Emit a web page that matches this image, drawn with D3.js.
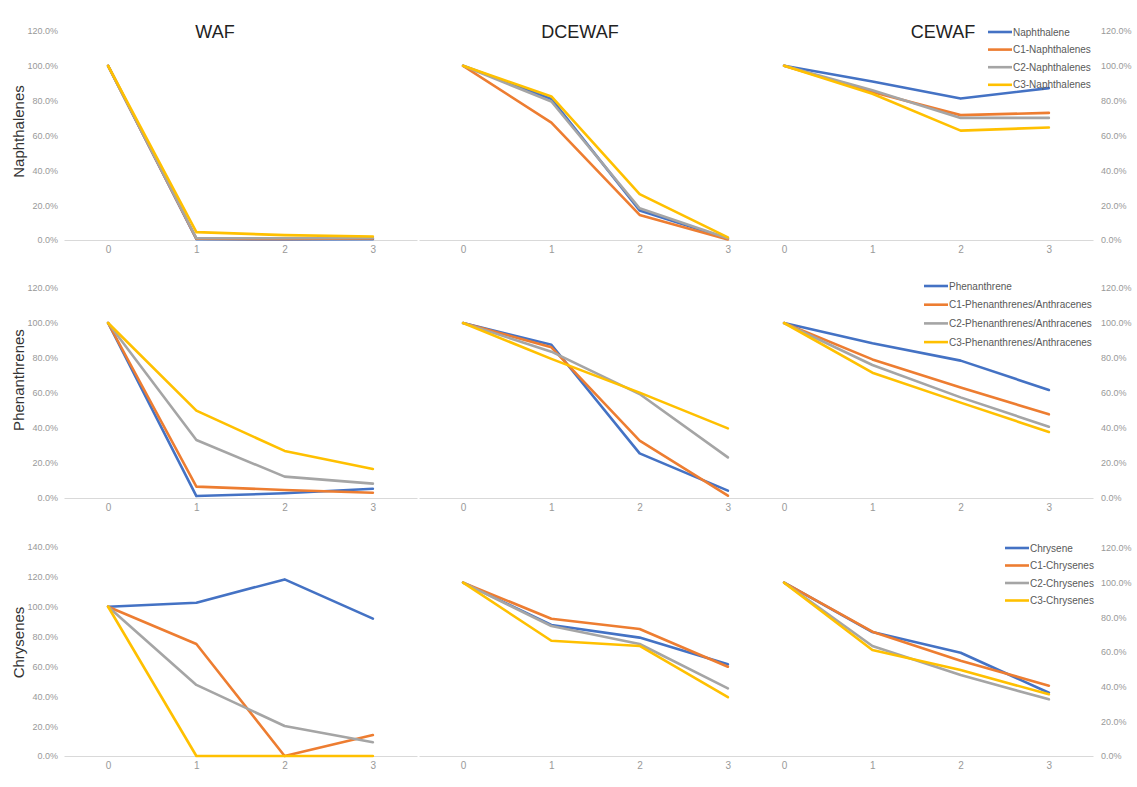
<!DOCTYPE html>
<html>
<head>
<meta charset="utf-8">
<script src="https://cdn.jsdelivr.net/npm/d3@7"></script>
<style>
  html, body { margin: 0; padding: 0; background: #fff; }
  svg { display: block; font-family: "Liberation Sans", Arial, sans-serif; }
</style>
</head>
<body>
<svg id="chart" width="1137" height="787"></svg>
<script>
// Sampling days after exposure
const timePoints = [0, 1, 2, 3];
const fractions = ["WAF", "DCEWAF", "CEWAF"];
const groups = ["Naphthalenes", "Phenanthrenes", "Chrysenes"];

const naphSeries = ["Naphthalene", "C1-Naphthalenes", "C2-Naphthalenes", "C3-Naphthalenes"];
const phenSeries = ["Phenanthrene", "C1-Phenanthrenes/Anthracenes", "C2-Phenanthrenes/Anthracenes", "C3-Phenanthrenes/Anthracenes"];
const chrySeries = ["Chrysene", "C1-Chrysenes", "C2-Chrysenes", "C3-Chrysenes"];

// Remaining fraction (%) per series, in series order
const naphWAF    = [[100, 0.5, 0.3, 0.5], [100, 0.8, 0.6, 0.9], [100, 1.0, 1.0, 1.2], [100, 4.5, 2.8, 2.0]];
const naphDCEWAF = [[100, 81.0, 17.0, 0.8], [100, 67.4, 14.4, 0.3], [100, 79.5, 18.2, 1.0], [100, 82.4, 26.3, 1.5]];
const naphCEWAF  = [[100, 91.0, 81.2, 87.2], [100, 85.0, 71.7, 73.0], [100, 86.0, 70.1, 70.1], [100, 84.0, 62.8, 64.6]];

const phenWAF    = [[100, 1.1, 2.7, 5.3], [100, 6.5, 4.6, 3.0], [100, 33.1, 12.2, 8.2], [100, 49.9, 26.9, 16.6]];
const phenDCEWAF = [[100, 87.6, 25.5, 4.2], [100, 86.1, 32.8, 1.3], [100, 83.6, 59.4, 23.2], [100, 79.5, 60.2, 39.8]];
const phenCEWAF  = [[100, 88.4, 78.5, 61.7], [100, 79.2, 63.2, 47.8], [100, 76.0, 57.5, 40.7], [100, 71.6, 54.5, 37.7]];

const chryWAF    = [[100, 102.7, 118.3, 92.0], [100, 75.0, 0, 14.0], [100, 47.6, 20.1, 9.2], [100, 0, 0, 0]];
const chryDCEWAF = [[100, 75.6, 68.3, 52.9], [100, 79.2, 73.3, 51.5], [100, 75.0, 64.6, 39.0], [100, 66.5, 63.5, 33.9]];
const chryCEWAF  = [[100, 71.5, 59.6, 36.5], [100, 71.7, 55.0, 40.6], [100, 63.5, 46.7, 32.7], [100, 61.2, 49.6, 35.6]];

// Axis tick values (%)
const ticksTo120 = [0, 20, 40, 60, 80, 100, 120];
const ticksTo140 = [0, 20, 40, 60, 80, 100, 120, 140];

const colors = ["#4472C4", "#ED7D31", "#A5A5A5", "#FFC000"];

// Layout
const panelX = [[64, 417], [419, 772], [740, 1093]];
const rows = [
  { name: groups[0], series: naphSeries, data: [naphWAF, naphDCEWAF, naphCEWAF],
    y0: 240, yTop: 31, leftMax: 120, leftTicks: ticksTo120, leftTop: 31,
    legendX: 988, legendY: 32, legendStep: 17.6, titles: true },
  { name: groups[1], series: phenSeries, data: [phenWAF, phenDCEWAF, phenCEWAF],
    y0: 498, yTop: 288, leftMax: 120, leftTicks: ticksTo120, leftTop: 288,
    legendX: 924, legendY: 286, legendStep: 18.7, titles: false },
  { name: groups[2], series: chrySeries, data: [chryWAF, chryDCEWAF, chryCEWAF],
    y0: 756, yTop: 548, leftMax: 140, leftTicks: ticksTo140, leftTop: 547,
    legendX: 1005, legendY: 548, legendStep: 17.5, titles: false }
];

const svg = d3.select("#chart");
const pct = d => d.toFixed(1) + "%";

rows.forEach((row, ri) => {
  const g = svg.append("g");

  // y scales: left panel has its own range, the other two share the right axis
  const yLeft = d3.scaleLinear().domain([0, row.leftMax]).range([row.y0, row.leftTop]);
  const yRight = d3.scaleLinear().domain([0, 120]).range([row.y0, row.yTop]);

  fractions.forEach((frac, pi) => {
    const x = d3.scalePoint().domain(timePoints).range(panelX[pi]).padding(0.5);
    const y = pi === 0 ? yLeft : yRight;

    // category axis along zero
    const xa = g.append("g")
      .attr("transform", `translate(0,${row.y0})`)
      .call(d3.axisBottom(x).tickSize(0).tickPadding(6));
    xa.select(".domain").attr("stroke", "#d9d9d9").attr("stroke-width", 1);
    xa.selectAll("text").attr("fill", "#999").attr("font-size", 10)
      .attr("font-family", "Liberation Sans, Arial, sans-serif");

    // value axes
    if (pi === 0) {
      const ya = g.append("g").attr("transform", `translate(60,0)`)
        .call(d3.axisLeft(y).tickValues(row.leftTicks).tickFormat(pct).tickSize(0).tickPadding(2));
      ya.select(".domain").remove();
      ya.selectAll("text").attr("fill", "#999").attr("font-size", 9)
        .attr("font-family", "Liberation Sans, Arial, sans-serif");
    }
    if (pi === 2) {
      const ya = g.append("g").attr("transform", `translate(1099,0)`)
        .call(d3.axisRight(y).tickValues(ticksTo120).tickFormat(pct).tickSize(0).tickPadding(2));
      ya.select(".domain").remove();
      ya.selectAll("text").attr("fill", "#999").attr("font-size", 9)
        .attr("font-family", "Liberation Sans, Arial, sans-serif");
    }

    // series lines
    const line = d3.line().x((d, i) => x(timePoints[i])).y(d => y(d));
    row.data[pi].forEach((vals, si) => {
      g.append("path")
        .datum(vals)
        .attr("d", line)
        .attr("fill", "none")
        .attr("stroke", colors[si])
        .attr("stroke-width", 2.6)
        .attr("stroke-linejoin", "round")
        .attr("stroke-linecap", "round");
    });

    // column titles
    if (row.titles) {
      const cx = [215, 580, 943][pi];
      g.append("text")
        .attr("x", cx).attr("y", 38)
        .attr("text-anchor", "middle")
        .attr("font-size", 18)
        .attr("fill", "#222")
        .text(frac);
    }
  });

  // row label
  const ly = (row.y0 + (ri === 2 ? row.leftTop : row.yTop)) / 2 + (ri === 0 ? -4 : ri === 1 ? -13 : -9);
  g.append("text")
    .attr("transform", `translate(24,${ly}) rotate(-90)`)
    .attr("text-anchor", "middle")
    .attr("font-size", 15)
    .attr("fill", "#333")
    .text(row.name);

  // legend
  const lg = g.append("g");
  row.series.forEach((s, si) => {
    const yy = row.legendY + si * row.legendStep;
    lg.append("line")
      .attr("x1", row.legendX).attr("x2", row.legendX + 24)
      .attr("y1", yy).attr("y2", yy)
      .attr("stroke", colors[si]).attr("stroke-width", 2.6);
    lg.append("text")
      .attr("x", row.legendX + 25).attr("y", yy + 3.5)
      .attr("font-size", 10)
      .attr("fill", "#595959")
      .text(s);
  });
});
</script>
</body>
</html>
